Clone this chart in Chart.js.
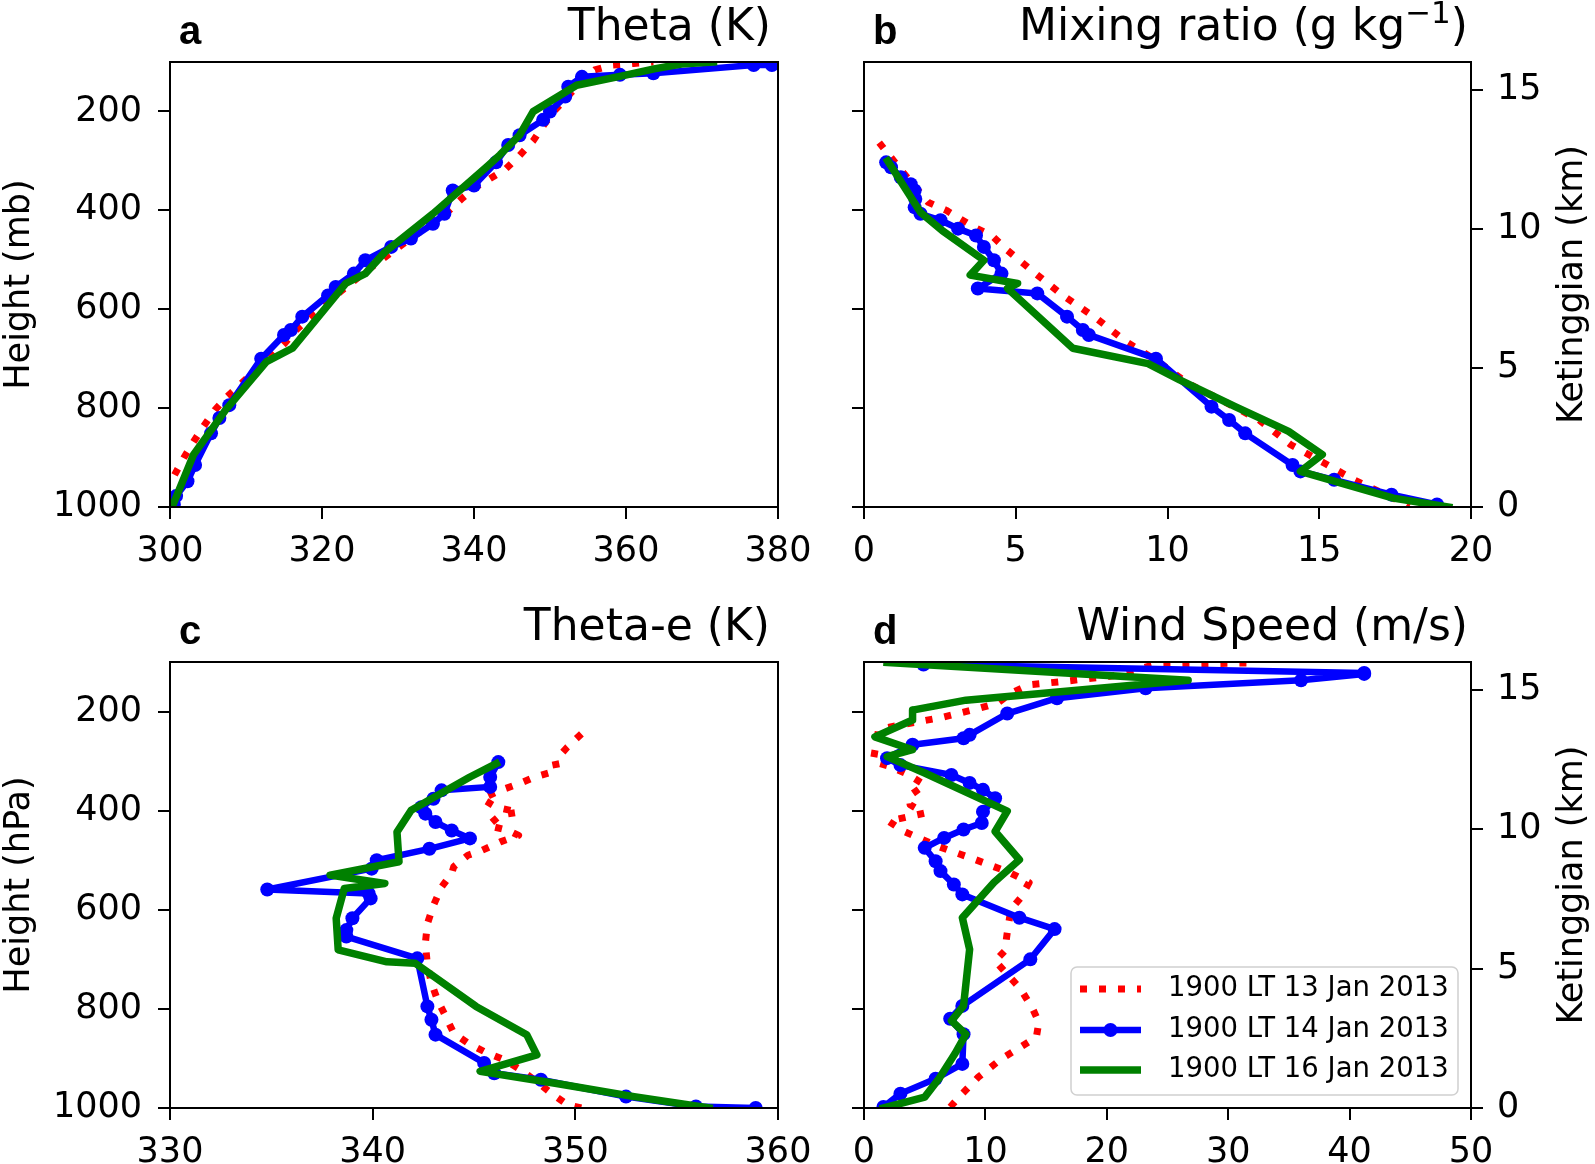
<!DOCTYPE html>
<html><head><meta charset="utf-8">
<script src="https://cdn.jsdelivr.net/npm/chart.js@4.4.0/dist/chart.umd.min.js"></script>
<style>
html,body{margin:0;padding:0;background:#fff;}
body{width:1595px;height:1164px;position:relative;overflow:hidden;}
canvas{position:absolute;}
</style></head><body>
<canvas id="ca" width="820" height="582" style="left:0px;top:0px"></canvas>
<canvas id="cb" width="775" height="582" style="left:820px;top:0px"></canvas>
<canvas id="cc" width="820" height="582" style="left:0px;top:582px"></canvas>
<canvas id="cd" width="775" height="582" style="left:820px;top:582px"></canvas>
<script>
// ---------- tick labels / categories ----------
const seriesLabels = ['1900 LT 13 Jan 2013', '1900 LT 14 Jan 2013', '1900 LT 16 Jan 2013'];
const pressureTicks = [200, 400, 600, 800, 1000];
const heightTicks = [0, 5, 10, 15];
const thetaTicks = [300, 320, 340, 360, 380];
const mixTicks = [0, 5, 10, 15, 20];
const thetaETicks = [330, 340, 350, 360];
const windTicks = [0, 10, 20, 30, 40, 50];

// ---------- series values: [value, pressure (mb)] ----------
const thetaJan13 = [[300.6,935],[301.8,901],[303.1,868],[304.4,837],[305.9,804],[307.5,777],[309.4,750],[311.3,723],[313.3,696],[315.1,669],[316.6,642],[318.5,615],[320.6,588],[322.7,561],[324.9,534],[327.2,507],[329.6,480],[332.0,453],[334.6,426],[336.9,398],[338.5,375],[340.2,353],[342.1,336],[344.2,316],[346.0,289],[347.8,259],[349.1,229],[350.5,200],[352.3,170],[354.0,142],[355.9,116],[358.3,106],[361.0,103],[363.6,100]];
const thetaJan14 = [[300.5,995],[300.8,978],[302.3,948],[303.3,915],[305.4,851],[306.5,820],[307.8,794],[312.0,700],[315.0,652],[315.9,642],[317.4,615],[320.8,572],[321.8,555],[324.2,528],[325.7,501],[329.1,474],[331.7,457],[334.6,427],[336.1,407],[337.2,360],[340.0,350],[342.9,303],[344.5,268],[346.0,248],[349.1,217],[350.0,200],[352.0,170],[352.4,150],[354.2,130],[359.2,126],[363.6,123],[376.8,106],[379.2,106]];
const thetaJan16 = [[300.3,999],[303.1,894],[307.3,804],[312.7,706],[316.1,679],[323.1,548],[325.7,528],[328.3,484],[334.6,407],[341.6,313],[343.4,288],[346.0,248],[347.8,200],[353.5,147],[359.5,128],[363.7,114],[367.3,104],[371.5,100]];

const mixJan13 = [[0.5,263],[1.28,323],[2.12,384],[2.71,400],[3.62,434],[4.21,451],[4.67,478],[5.65,528],[6.62,575],[7.67,619],[8.64,666],[9.62,703],[10.67,750],[11.78,784],[13.02,824],[14.06,874],[15.16,911],[16.14,945],[17.44,982],[17.97,999]];
const mixJan14 = [[0.73,303],[0.89,313],[1.21,333],[1.54,347],[1.67,360],[1.69,377],[1.67,394],[1.86,407],[2.52,420],[3.10,437],[3.69,451],[3.95,474],[4.28,501],[4.53,528],[3.75,558],[5.71,568],[6.69,615],[7.21,642],[7.41,652],[9.62,700],[11.45,797],[12.03,824],[12.56,851],[14.12,915],[14.38,928],[15.49,945],[17.38,975],[18.88,995]];
const mixJan16 = [[0.78,300],[1.86,404],[2.58,441],[3.95,501],[3.50,531],[5.06,548],[4.73,558],[6.88,679],[9.36,710],[10.4,743],[12.23,797],[13.99,847],[15.1,894],[14.38,928],[17.44,982],[19.27,1000]];

const thetaEJan13 = [[350.3,245],[349.6,272],[349.0,299],[349.1,319],[348.0,332],[347.2,346],[346.3,359],[345.4,376],[346.1,393],[347.2,403],[346.3,409],[345.7,430],[346.7,440],[347.2,450],[346.3,463],[345.4,480],[344.7,490],[344.0,513],[343.9,527],[343.4,554],[343.0,591],[342.7,628],[342.6,668],[342.7,711],[342.9,748],[343.2,782],[343.6,815],[344.0,849],[344.7,869],[345.5,886],[346.5,903],[347.3,923],[348.2,950],[348.8,970],[349.6,993],[350.3,1000]];
const thetaEJan14 = [[346.2,302],[345.8,332],[345.8,352],[343.4,359],[343.0,376],[342.4,393],[342.6,406],[343.1,423],[343.9,440],[344.8,456],[342.8,477],[340.2,500],[339.95,517],[334.8,559],[339.8,567],[339.9,577],[339.0,617],[338.7,641],[338.7,654],[342.2,698],[342.7,795],[342.9,822],[343.1,852],[345.5,909],[346.0,930],[348.3,943],[352.5,977],[355.95,997],[358.9,1000]];
const thetaEJan16 = [[346.1,305],[344.8,332],[341.9,399],[341.2,443],[341.3,503],[337.9,530],[340.6,547],[338.6,557],[338.2,617],[338.3,681],[340.7,705],[342.1,708],[345.1,795],[347.6,852],[348.1,893],[345.3,926],[349.0,950],[352.9,977],[356.6,1000]];

const windJan13 = [[31.5,102],[24.0,105],[20.5,128],[16.5,139],[13.6,146],[12.1,163],[11.0,183],[9.4,194],[6.4,212],[3.2,226],[1.2,236],[0.75,301],[2.2,311],[3.7,328],[5.0,348],[3.7,371],[3.8,388],[5.0,405],[2.0,421],[3.3,442],[6.1,472],[9.2,499],[12.0,525],[13.6,545],[12.9,576],[12.1,599],[11.8,646],[11.6,683],[10.8,703],[12.9,760],[13.9,800],[14.4,827],[14.2,857],[12.9,877],[11.3,901],[9.4,938],[8.1,971],[7.1,998]];
const windJan14 = [[4.9,105],[41.2,122],[41.2,124],[36.0,137],[23.2,153],[15.9,173],[11.8,204],[8.7,247],[8.2,254],[4.0,267],[1.9,294],[3.0,308],[7.2,328],[8.7,344],[9.8,358],[10.8,375],[9.8,402],[9.7,425],[8.2,438],[6.6,455],[5.0,475],[5.9,502],[6.3,522],[7.4,549],[8.1,569],[12.8,616],[15.7,639],[13.7,700],[8.1,794],[7.1,820],[8.2,851],[8.1,911],[5.9,941],[3.0,971],[1.6,998]];
const windJan16 = [[1.9,101],[26.7,137],[8.4,177],[4.0,197],[4.0,217],[0.9,251],[4.0,277],[1.9,291],[5.0,324],[11.8,401],[10.8,442],[12.8,499],[10.7,545],[8.1,616],[8.7,680],[8.2,794],[7.2,824],[8.4,851],[7.5,890],[6.2,940],[5.0,978],[1.6,1000]];

// ---------- helpers ----------
const FONT = '"DejaVu Sans", sans-serif';
Chart.defaults.color = '#000';
Chart.defaults.font.family = FONT;
const toXY = pairs => pairs.map(([x, y]) => ({x: x, y: y}));

function dsRed(pairs) {
  return {label: seriesLabels[0], data: toXY(pairs), showLine: true, borderColor: '#ff0000',
    borderWidth: 7, borderDash: [7, 12], borderCapStyle: 'butt', borderJoinStyle: 'round',
    pointRadius: 0, pointHoverRadius: 0, tension: 0, clip: 0, order: 3};
}
function dsBlue(pairs) {
  return {label: seriesLabels[1], data: toXY(pairs), showLine: true, borderColor: '#0000ff',
    borderWidth: 6.5, borderCapStyle: 'round', borderJoinStyle: 'round',
    pointRadius: 7, pointHoverRadius: 7, pointBackgroundColor: '#0000ff', pointBorderWidth: 0,
    tension: 0, clip: 0, order: 2};
}
function dsGreen(pairs) {
  return {label: seriesLabels[2], data: toXY(pairs), showLine: true, borderColor: '#008000',
    borderWidth: 7.5, borderCapStyle: 'square', borderJoinStyle: 'round',
    pointRadius: 0, pointHoverRadius: 0, tension: 0, clip: 0, order: 1};
}
function zeroPad(s) { s.paddingTop = 0; s.paddingBottom = 0; s.paddingLeft = 0; s.paddingRight = 0; }
const tickGrid = {display: true, drawOnChartArea: false, drawTicks: true, tickLength: 12, tickWidth: 2,
  tickColor: '#000', color: '#000', lineWidth: 2};
const tickFont = {family: FONT, size: 35};
const fixTicks = arr => s => { s.ticks = arr.map(v => ({value: v})); };

function decorPlugin(p) {
  return {
    id: 'decor',
    afterDatasetsDraw(chart) {
      const {ctx, chartArea: a} = chart;
      ctx.save();
      ctx.strokeStyle = '#000'; ctx.lineWidth = 2;
      ctx.strokeRect(a.left, a.top, a.right - a.left, a.bottom - a.top);
      ctx.restore();
    },
    afterDraw(chart) {
      const {ctx, chartArea: a} = chart;
      ctx.save();
      ctx.fillStyle = '#000';
      // panel letter
      ctx.font = 'bold 40px "Liberation Sans", Arial, sans-serif';
      ctx.textAlign = 'left'; ctx.textBaseline = 'alphabetic';
      ctx.fillText(p.letter, a.left + 9, a.top - 18);
      // title (right aligned)
      const tf = '44px ' + FONT, sf = '31px ' + FONT;
      const endX = a.right - p.titleInset, base = a.top - 22;
      if (p.sup) {
        ctx.font = tf; const w1 = ctx.measureText(p.title).width; const w3 = ctx.measureText(p.titleEnd).width;
        ctx.font = sf; const w2 = ctx.measureText(p.sup).width;
        let x = endX - w1 - w2 - w3;
        ctx.font = tf; ctx.fillText(p.title, x, base); x += w1;
        ctx.font = sf; ctx.fillText(p.sup, x, base - 17); x += w2;
        ctx.font = tf; ctx.fillText(p.titleEnd, x, base);
      } else {
        ctx.font = tf; ctx.textAlign = 'right'; ctx.fillText(p.title, endX, base);
      }
      // axis labels
      const cy = (a.top + a.bottom) / 2;
      ctx.font = '35px ' + FONT; ctx.textAlign = 'center'; ctx.textBaseline = 'middle';
      if (p.leftLabel) {
        ctx.save(); ctx.translate(20, cy); ctx.rotate(-Math.PI / 2); ctx.fillText(p.leftLabel, 0, 0); ctx.restore();
      }
      if (p.rightLabel) {
        ctx.save(); ctx.translate(a.right + 102, cy); ctx.rotate(-Math.PI / 2); ctx.fillText(p.rightLabel, 0, 0); ctx.restore();
      }
      // legend
      if (p.legend) {
        const bw = 387, bh = 128;
        const bx = a.right - 13 - bw, by = a.bottom - 13 - bh;
        ctx.beginPath();
        if (ctx.roundRect) ctx.roundRect(bx, by, bw, bh, 6); else ctx.rect(bx, by, bw, bh);
        ctx.fillStyle = 'rgba(255,255,255,0.85)'; ctx.fill();
        ctx.strokeStyle = '#d0d0d0'; ctx.lineWidth = 1.5; ctx.stroke();
        const rows = [by + 22, by + 63, by + 103];
        const ds = chart.data.datasets;
        ctx.font = '27.5px ' + FONT; ctx.textAlign = 'left'; ctx.textBaseline = 'middle';
        rows.forEach((ry, i) => {
          const d = ds[i];
          ctx.save();
          ctx.strokeStyle = d.borderColor; ctx.lineWidth = d.borderWidth;
          ctx.lineCap = 'butt';
          ctx.setLineDash(d.borderDash || []);
          ctx.beginPath(); ctx.moveTo(bx + 9, ry); ctx.lineTo(bx + 70, ry); ctx.stroke();
          if (d.pointRadius > 0) {
            ctx.setLineDash([]); ctx.fillStyle = d.pointBackgroundColor;
            ctx.beginPath(); ctx.arc(bx + 39.5, ry, d.pointRadius, 0, Math.PI * 2); ctx.fill();
          }
          ctx.restore();
          ctx.fillStyle = '#000';
          ctx.fillText(d.label, bx + 97, ry);
        });
      }
      ctx.restore();
    }
  };
}

function makePanel(id, cfg) {
  const scales = {
    x: {type: 'linear', min: cfg.xMin, max: cfg.xMax, bounds: 'data',
      afterBuildTicks: fixTicks(cfg.xTicks),
      afterFit: s => { s.height = cfg.xAxisH; zeroPad(s); },
      ticks: {font: tickFont, color: '#000', padding: 12, maxRotation: 0, autoSkip: false, callback: v => String(v)},
      grid: tickGrid, border: {display: false}},
    y: {type: 'linear', position: 'left', reverse: true, min: 100, max: 1000, bounds: 'data',
      afterBuildTicks: fixTicks(pressureTicks),
      afterFit: s => { s.width = cfg.yAxisW; zeroPad(s); },
      ticks: {display: cfg.showPressureLabels, font: tickFont, color: '#000', padding: 16, autoSkip: false, callback: v => String(v)},
      grid: tickGrid, border: {display: false}}
  };
  if (cfg.rightAxis) {
    scales.y2 = {type: 'linear', position: 'right', min: 0, max: 16, bounds: 'data',
      afterBuildTicks: fixTicks(heightTicks),
      afterFit: s => { s.width = cfg.y2AxisW; zeroPad(s); },
      ticks: {font: tickFont, color: '#000', padding: 14, autoSkip: false, callback: v => String(v)},
      grid: tickGrid, border: {display: false}};
  }
  return new Chart(document.getElementById(id), {
    type: 'scatter',
    data: {datasets: [dsRed(cfg.s13), dsBlue(cfg.s14), dsGreen(cfg.s16)]},
    options: {
      responsive: false, maintainAspectRatio: false, animation: false, devicePixelRatio: 1, events: [],
      layout: {padding: {left: 0, right: cfg.padRight, top: cfg.padTop, bottom: 0}},
      plugins: {legend: {display: false}, tooltip: {enabled: false}, title: {display: false}},
      scales: scales
    },
    plugins: [decorPlugin(cfg.decor)]
  });
}

makePanel('ca', {s13: thetaJan13, s14: thetaJan14, s16: thetaJan16, xMin: 300, xMax: 380, xTicks: thetaTicks,
  xAxisH: 75, yAxisW: 170, padTop: 62, padRight: 42, showPressureLabels: true, rightAxis: false,
  decor: {letter: 'a', title: 'Theta (K)', titleInset: 7, leftLabel: 'Height (mb)'}});
makePanel('cb', {s13: mixJan13, s14: mixJan14, s16: mixJan16, xMin: 0, xMax: 20, xTicks: mixTicks,
  xAxisH: 75, yAxisW: 44, y2AxisW: 124, padTop: 62, padRight: 0, showPressureLabels: false, rightAxis: true,
  decor: {letter: 'b', title: 'Mixing ratio (g kg', sup: '\u22121', titleEnd: ')', titleInset: 3, rightLabel: 'Ketinggian (km)'}});
makePanel('cc', {s13: thetaEJan13, s14: thetaEJan14, s16: thetaEJan16, xMin: 330, xMax: 360, xTicks: thetaETicks,
  xAxisH: 56, yAxisW: 170, padTop: 80, padRight: 42, showPressureLabels: true, rightAxis: false,
  decor: {letter: 'c', title: 'Theta-e (K)', titleInset: 8, leftLabel: 'Height (hPa)'}});
makePanel('cd', {s13: windJan13, s14: windJan14, s16: windJan16, xMin: 0, xMax: 50, xTicks: windTicks,
  xAxisH: 56, yAxisW: 44, y2AxisW: 124, padTop: 80, padRight: 0, showPressureLabels: false, rightAxis: true,
  decor: {letter: 'd', title: 'Wind Speed (m/s)', titleInset: 3, rightLabel: 'Ketinggian (km)', legend: true}});
</script>
</body></html>
